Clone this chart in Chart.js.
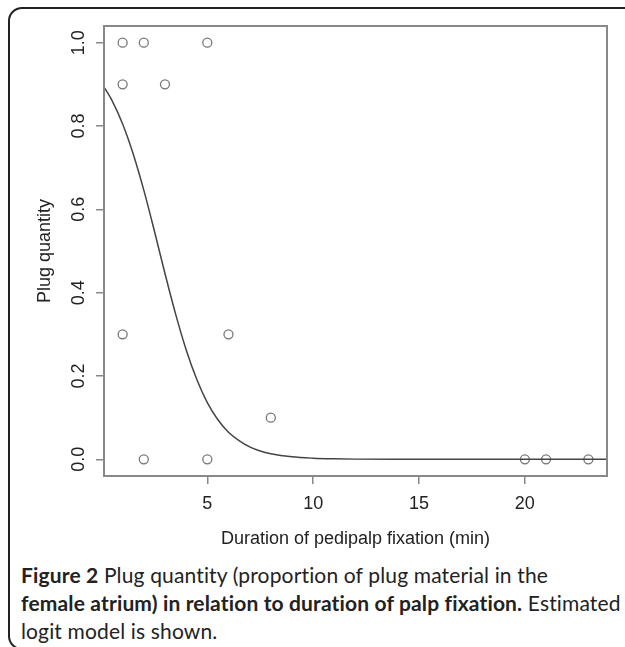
<!DOCTYPE html>
<html>
<head>
<meta charset="utf-8">
<script src="https://cdn.jsdelivr.net/npm/chart.js@4"></script>
<style>
    body { margin: 0; background: #fff; width: 625px; height: 647px; overflow: hidden; position: relative; }
    #frame { position: absolute; left: 8px; top: 7px; width: 640px; height: 643px; border: 2px solid #222; border-radius: 14px; box-sizing: border-box; }
    #plot { position: absolute; left: 0; top: 0; }
    #caption { position: absolute; left: 21px; top: 561px; font-family: Lato, sans-serif; font-size: 21px; letter-spacing: 0.15px; line-height: 28px; color: #222; white-space: nowrap; }
    #caption b { font-weight: bold; }
</style>
</head>
<body>
<div id="frame"></div>
<canvas id="plot" width="625" height="560"></canvas>
<div id="caption"><b>Figure 2</b> Plug quantity (proportion of plug material in the<br><b>female atrium) in relation to duration of palp fixation.</b> Estimated<br>logit model is shown.</div>
<script>
// observed points
const durationMin = [1, 2, 5, 1, 3, 1, 6, 8, 2, 5, 20, 21, 23];
const plugQuantity = [1, 1, 1, 0.9, 0.9, 0.3, 0.3, 0.1, 0, 0, 0, 0, 0];

// fitted logit curve
const curveX = [0, 0.5, 1, 1.5, 2, 2.5, 3, 3.5, 4, 4.5, 5, 5.5, 6, 6.5, 7, 7.5, 8, 9, 10, 11, 12, 14, 24];
const curveY = [0.903, 0.861, 0.805, 0.733, 0.646, 0.548, 0.446, 0.349, 0.263, 0.192, 0.136, 0.095, 0.065, 0.045, 0.030, 0.020, 0.0135, 0.006, 0.0027, 0.0012, 0.0005, 0.0001, 0];

const xTicks = [5, 10, 15, 20];
const yTicks = [0, 0.2, 0.4, 0.6, 0.8, 1.0];

// box round the plot region, like R's plot frame
const boxPlugin = {
    id: 'box',
    afterDatasetsDraw(chart) {
        const a = chart.chartArea;
        const ctx = chart.ctx;
        ctx.save();
        ctx.strokeStyle = '#888';
        ctx.lineWidth = 2;
        ctx.strokeRect(a.left, a.top, a.right - a.left, a.bottom - a.top);
        ctx.restore();
    }
};

const axisFont = { family: '"Liberation Sans", Arial, sans-serif', size: 18 };

new Chart(document.getElementById('plot').getContext('2d'), {
    type: 'scatter',
    data: {
        datasets: [{
            type: 'line',
            data: curveX.map((x, i) => ({ x: x, y: curveY[i] })),
            borderColor: '#444',
            borderWidth: 1.5,
            pointRadius: 0,
            cubicInterpolationMode: 'monotone',
            fill: false
        }, {
            data: durationMin.map((x, i) => ({ x: x, y: plugQuantity[i] })),
            pointStyle: 'circle',
            pointRadius: 4.5,
            borderColor: '#777',
            borderWidth: 1.3,
            backgroundColor: 'rgba(0,0,0,0)'
        }]
    },
    options: {
        responsive: false,
        animation: false,
        devicePixelRatio: 1,
        layout: { padding: { left: 0, top: 26, right: 18, bottom: 0 } },
        plugins: { legend: { display: false }, tooltip: { enabled: false } },
        scales: {
            x: {
                type: 'linear',
                min: 0.12,
                max: 23.88,
                afterBuildTicks: s => { s.ticks = xTicks.map(v => ({ value: v })); },
                afterFit: s => { s.height = 84; },
                border: { display: false },
                grid: { drawOnChartArea: false, drawTicks: true, tickLength: 8, color: '#888', lineWidth: 1.5 },
                ticks: { font: axisFont, color: '#222', padding: 9, maxRotation: 0 },
                title: { display: true, text: 'Duration of pedipalp fixation (min)', font: axisFont, color: '#222', padding: { top: 0, bottom: 10 } }
            },
            y: {
                min: -0.04,
                max: 1.04,
                afterBuildTicks: s => { s.ticks = yTicks.map(v => ({ value: v })); },
                afterFit: s => { s.width = 104; },
                border: { display: false },
                grid: { drawOnChartArea: false, drawTicks: true, tickLength: 8, color: '#888', lineWidth: 1.5 },
                ticks: { font: axisFont, color: '#222', padding: 4, minRotation: 90, maxRotation: 90, crossAlign: 'center', callback: v => v.toFixed(1) },
                title: { display: true, text: 'Plug quantity', font: axisFont, color: '#222', padding: { top: 34, bottom: 0 } }
            }
        }
    },
    plugins: [boxPlugin]
});
</script>
</body>
</html>
